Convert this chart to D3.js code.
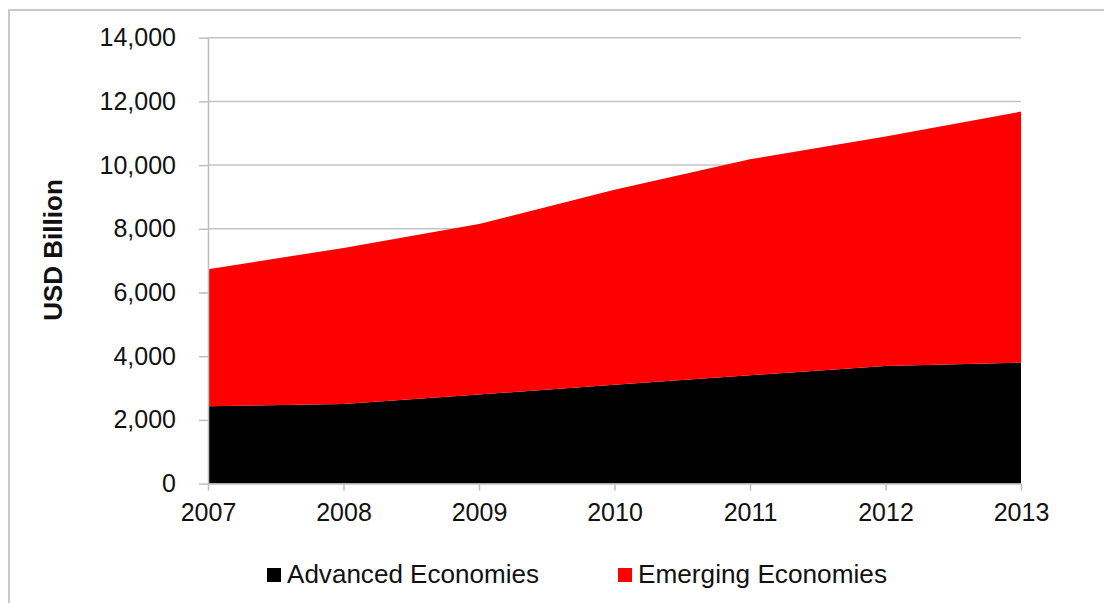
<!DOCTYPE html>
<html>
<head>
<meta charset="utf-8">
<script src="https://cdn.jsdelivr.net/npm/d3@7"></script>
<style>
  body { margin: 0; background: #fff; }
  text { font-family: "Liberation Sans", Arial, sans-serif; fill: #111; }
</style>
</head>
<body>
<svg width="1104" height="603"></svg>
<script>
const years = [2007, 2008, 2009, 2010, 2011, 2012, 2013];
const advanced = [2430, 2500, 2800, 3100, 3400, 3690, 3800];
const emerging = [4300, 4900, 5350, 6130, 6780, 7210, 7880];
const yTicks = [0, 2000, 4000, 6000, 8000, 10000, 12000, 14000];
const seriesNames = ["Advanced Economies", "Emerging Economies"];
const seriesColors = ["#000000", "#ff0000"];

const svg = d3.select("svg");

// outer frame (left + top only visible)
svg.append("path")
    .attr("d", "M9,603 L9,10 L1104,10")
    .attr("fill", "none")
    .attr("stroke", "#c8c8c8")
    .attr("stroke-width", 2);

const xScale = d3.scaleLinear().domain([2007, 2013]).range([208, 1021]);
const yScale = d3.scaleLinear().domain([0, 14000]).range([483.6, 37.7]);

const table = years.map((y, i) => ({year: y, adv: advanced[i], emg: emerging[i]}));
const stacked = d3.stack().keys(["adv", "emg"])(table);

// gridlines
svg.append("g")
    .selectAll("line")
    .data(yTicks.filter(d => d > 0))
    .enter()
    .append("line")
    .attr("x1", 208)
    .attr("x2", 1021)
    .attr("y1", d => yScale(d))
    .attr("y2", d => yScale(d))
    .attr("stroke", "#c4c4c4")
    .attr("stroke-width", 1.5);

const area = d3.area()
    .x(d => xScale(d.data.year))
    .y0(d => yScale(d[0]))
    .y1(d => yScale(d[1]));

svg.append("g")
    .selectAll("path")
    .data(stacked)
    .enter()
    .append("path")
    .attr("d", area)
    .attr("fill", (d, i) => seriesColors[i]);

// y axis
const yAxis = svg.append("g")
    .attr("transform", "translate(208,0)")
    .call(d3.axisLeft(yScale).tickValues(yTicks).tickFormat(d3.format(",")).tickSize(9).tickPadding(23).tickSizeOuter(0));
yAxis.select(".domain").attr("stroke", "#bdbdbd").attr("stroke-width", 1.5);
yAxis.selectAll(".tick line").attr("stroke", "#bdbdbd").attr("stroke-width", 1.5);
yAxis.selectAll(".tick text").style("font-size", "25px").attr("fill", "#111");

// x axis
const xAxis = svg.append("g")
    .attr("transform", "translate(0,483.6)")
    .call(d3.axisBottom(xScale).tickValues(years).tickFormat(d3.format("d")).tickSize(7).tickPadding(13).tickSizeOuter(0));
xAxis.select(".domain").attr("stroke", "#bdbdbd").attr("stroke-width", 1.5);
xAxis.selectAll(".tick line").attr("stroke", "#bdbdbd").attr("stroke-width", 1.5);
xAxis.selectAll(".tick text").style("font-size", "25px").attr("fill", "#111");

// y title
svg.append("text")
    .attr("transform", "translate(62,250) rotate(-90)")
    .style("text-anchor", "middle")
    .style("font-size", "26px")
    .style("font-weight", "bold")
    .text("USD Billion");

// legend
const legendX = [267, 618];
const legendW = [252, 249];
const legend = svg.append("g")
    .selectAll("g")
    .data(seriesNames)
    .enter()
    .append("g")
    .attr("transform", (d, i) => `translate(${legendX[i]},0)`);

legend.append("rect")
    .attr("x", 0)
    .attr("y", 568)
    .attr("width", 14)
    .attr("height", 14)
    .attr("fill", (d, i) => seriesColors[i]);

legend.append("text")
    .attr("x", 20)
    .attr("y", 583)
    .style("font-size", "25px")
    .attr("textLength", (d, i) => legendW[i])
    .attr("lengthAdjust", "spacingAndGlyphs")
    .text(d => d);
</script>
</body>
</html>
